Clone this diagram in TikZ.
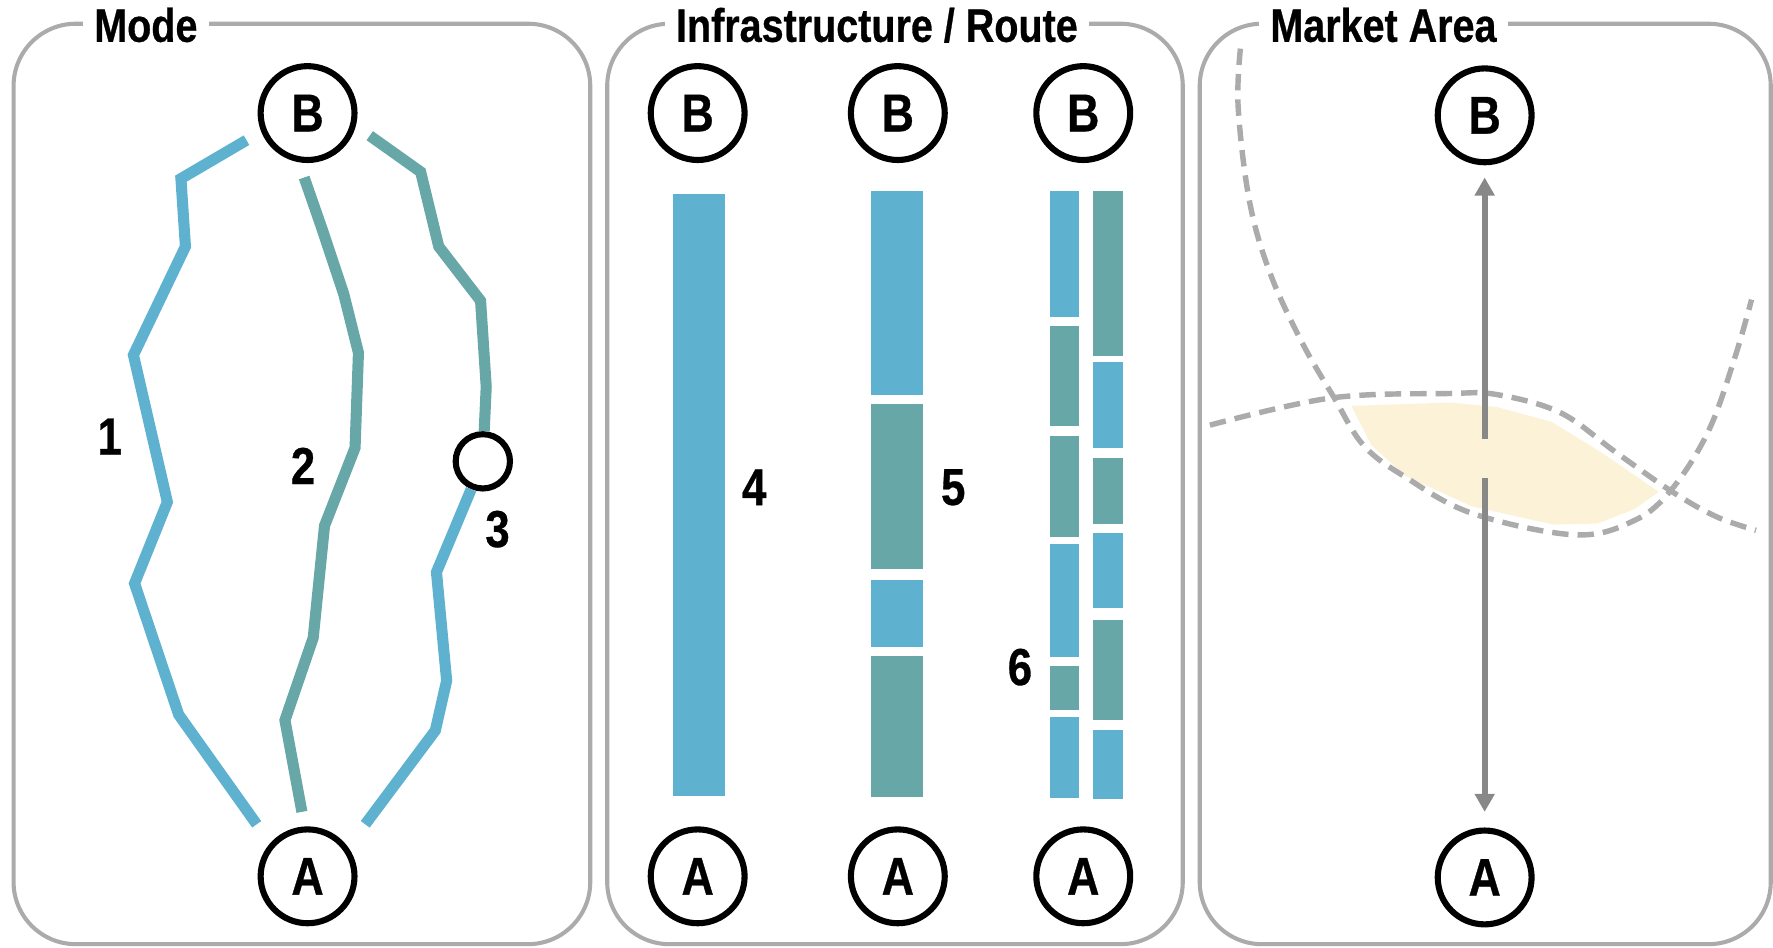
\documentclass[tikz,border=0pt]{standalone}
\usepackage{fontspec}
\setmainfont{Liberation Sans}
\newfontfamily\cond[FakeStretch=0.84,BoldFeatures={FakeBold=0.6}]{Liberation Sans}
\usetikzlibrary{arrows.meta}
\definecolor{cblue}{HTML}{5EB1CF}
\definecolor{cteal}{HTML}{68A7A7}
\definecolor{cframe}{HTML}{ABABAB}
\definecolor{carrow}{HTML}{888888}
\definecolor{cyell}{HTML}{FCF2D8}
\begin{document}
\begin{tikzpicture}[x=0.5pt,y=-0.5pt,
  panel/.style={draw=cframe,line width=1.8pt,rounded corners=27.5pt},
  ptitle/.style={fill=white,anchor=base,inner xsep=5pt,inner ysep=2pt,font=\cond\bfseries\fontsize{20.8}{20.8}\selectfont},
  city/.style={circle,draw=black,line width=2.7pt,minimum size=41.5pt,inner sep=0pt,font=\cond\bfseries\fontsize{23.5}{23.5}\selectfont},
  stop/.style={circle,draw=black,line width=2.7pt,minimum size=24pt,inner sep=0pt},
  lbl/.style={font=\cond\bfseries\fontsize{23}{23}\selectfont,inner sep=0pt},
  routeb/.style={draw=cblue,line width=4.9pt},
  routet/.style={draw=cteal,line width=4.9pt},
  marr/.style={draw=carrow,line width=2.7pt,-{Triangle[length=8pt,width=8.5pt]}},
  dcurve/.style={draw=cframe,line width=2.4pt,dash pattern=on 7.25pt off 4pt}
]
\useasboundingbox (0,0) rectangle (1568,838);

% ---------- panels ----------
\draw[panel] (12,21) rectangle (522,835);
\draw[panel] (537,21) rectangle (1046,835);
\draw[panel] (1061,21) rectangle (1566,835);
\node[ptitle] (t1) at (129,37) {Mode};
\node[ptitle] (t2) at (775.5,37) {Infrastructure / Route};
\node[ptitle] (t3) at (1223.5,37) {Market Area};

% ---------- Mode ----------
\node[city] (MB) at (272,100) {B};
\node[city] (MA) at (272,775) {A};
\draw[routeb] (218,124) -- (160,158) -- (164,218) -- (118,314) -- (148,444) -- (119,516) -- (158,632) -- (227,729);
\draw[routet] (269,157) -- (285,203) -- (304,260) -- (317,312) -- (314,396) -- (287,465) -- (277,564) -- (252,637) -- (267,718);
\node[stop] (M3) at (427,408) {};
\draw[routet] (327,120) -- (372,152) -- (388,218) -- (425,266) -- (430,342) -- (M3);
\draw[routeb] (M3) -- (386,506) -- (395,602) -- (385,646) -- (323,729);
\node[lbl] (l1) at (97,386) {1};
\node[lbl] (l2) at (268,412) {2};
\node[lbl] (l3) at (440,468) {3};

% ---------- Infrastructure / Route ----------
\node[city] (IB1) at (617,100) {B};
\node[city] (IB2) at (794,100) {B};
\node[city] (IB3) at (958,100) {B};
\node[city] (IA1) at (617,775) {A};
\node[city] (IA2) at (794,775) {A};
\node[city] (IA3) at (958,775) {A};
% bar 4
\fill[cblue] (595,172) rectangle (641,704);
% bar 5
\fill[cblue] (770,169) rectangle (816,349);
\fill[cteal] (770,357) rectangle (816,503);
\fill[cblue] (770,513) rectangle (816,572);
\fill[cteal] (770,580) rectangle (816,705);
% bar 6 left
\fill[cblue] (929,169) rectangle (954,280);
\fill[cteal] (929,288) rectangle (954,377);
\fill[cteal] (929,386) rectangle (954,475);
\fill[cblue] (929,481) rectangle (954,581);
\fill[cteal] (929,589) rectangle (954,628);
\fill[cblue] (929,634) rectangle (954,706);
% bar 6 right
\fill[cteal] (967,169) rectangle (993,315);
\fill[cblue] (967,320) rectangle (993,396);
\fill[cteal] (967,405) rectangle (993,463);
\fill[cblue] (967,471) rectangle (993,538);
\fill[cteal] (967,548) rectangle (993,637);
\fill[cblue] (967,646) rectangle (993,707);
\node[lbl] (l4) at (667,431) {4};
\node[lbl] (l5) at (843,431) {5};
\node[lbl] (l6) at (902,590) {6};

% ---------- Market Area ----------
\fill[cyell] (1195,359) -- (1282,356) -- (1324,360) -- (1372,373) -- (1416,400) -- (1467,435) -- (1446,450) -- (1413,463) -- (1374,464) -- (1302,448) -- (1243,421) -- (1213,394) -- cycle;
\draw[dcurve] plot[smooth,tension=0.6] coordinates {(1097,43) (1095,95) (1105,178) (1123,241) (1151,302) (1180,352) (1206,394) (1243,422) (1302,454) (1393,473) (1446,460) (1479,432) (1511,381) (1534,317) (1549,265)};
\draw[dcurve] plot[smooth,tension=0.6] coordinates {(1070,376) (1177,352) (1282,348) (1324,349) (1380,365) (1429,400) (1479,435) (1518,457) (1553,469)};
\node[city] (MkB) at (1313,102) {B};
\node[city] (MkA) at (1313,776) {A};
\coordinate (mk1) at (1313,388);
\coordinate (mk2) at (1313,423);
\draw[marr,shorten >=5.4pt] (mk1) -- (MkB.south);
\draw[marr,shorten >=6.9pt] (mk2) -- (MkA.north);
\end{tikzpicture}
\end{document}
